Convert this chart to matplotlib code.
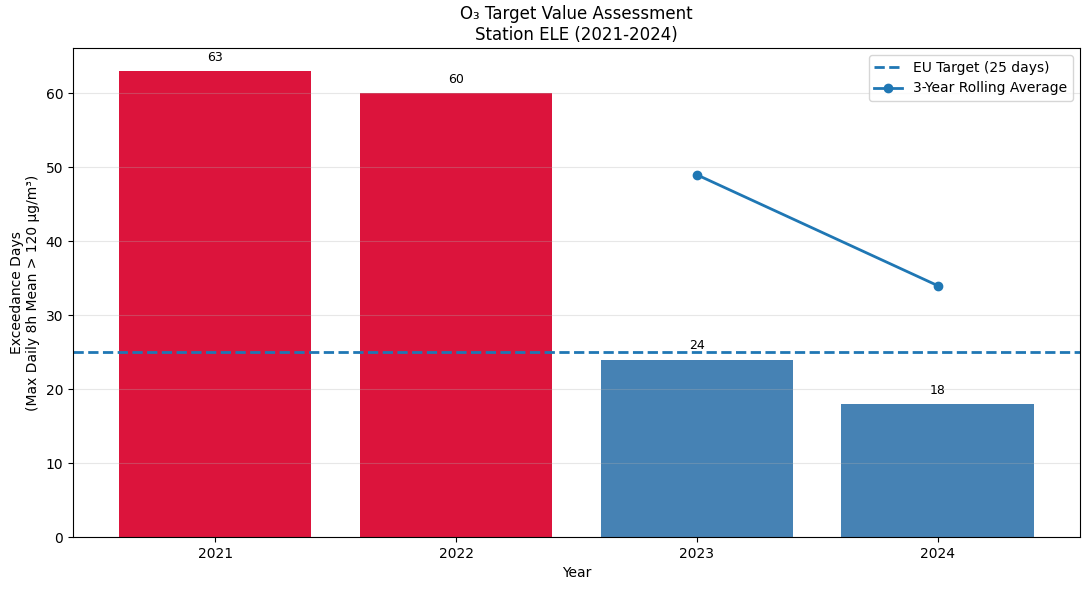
import matplotlib
matplotlib.use("Agg")
import matplotlib.pyplot as plt

years = [2021, 2022, 2023, 2024]
exceedance_days = [63, 60, 24, 18]
rolling_years = [2023, 2024]
rolling_avg = [49, 34]
target = 25

fig, ax = plt.subplots(figsize=(10.89, 5.9), dpi=100)

colores = ['crimson' if d > target else 'steelblue' for d in exceedance_days]
x = list(range(len(years)))
barras = ax.bar(x, exceedance_days, color=colores)

for b, d in zip(barras, exceedance_days):
    ax.text(b.get_x() + b.get_width() / 2, d + 1, str(d),
            ha='center', va='bottom', fontsize=9)

ax.axhline(target, linestyle='--', linewidth=2, color='tab:blue', label=f'EU Target ({target} days)')

rx = [years.index(y) for y in rolling_years]
ax.plot(rx, rolling_avg, marker='o', linewidth=2, color='tab:blue', label='3-Year Rolling Average')

ax.set_xticks(x)
ax.set_xticklabels([str(y) for y in years])
ax.set_xlabel('Year')
ax.set_ylabel('Exceedance Days\n(Max Daily 8h Mean > 120 μg/m³)')
ax.set_title('O₃ Target Value Assessment\nStation ELE (2021-2024)')
ax.grid(axis='y', alpha=0.3)
ax.legend(loc='upper right')

# posicion del eje igual que la referencia
fig.subplots_adjust(left=0.067, right=0.9917, top=0.9186, bottom=0.0898)
plt.savefig('out.png', dpi=100)
